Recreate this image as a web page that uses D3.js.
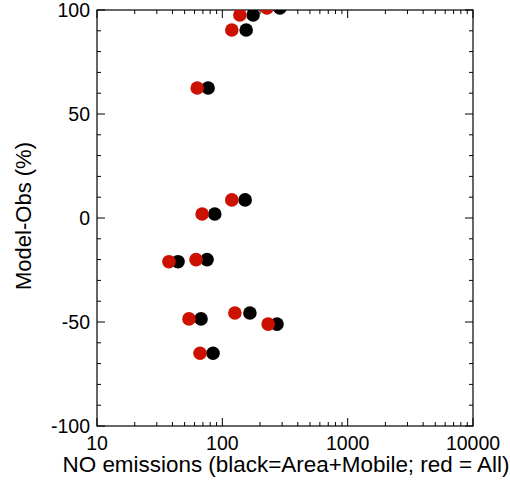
<!DOCTYPE html>
<html><head><meta charset="utf-8">
<script src="https://cdn.jsdelivr.net/npm/d3@7"></script>
<style>body{margin:0;background:#fff}svg text{font-family:"Liberation Sans",Arial,sans-serif}</style>
</head><body><svg id="c" width="510" height="483"></svg>
<script>
const blackX = [288, 176, 155, 77, 152, 87, 44.3, 75.5, 67.6, 166, 273, 84.3];
const redX   = [227, 138, 119, 63, 119, 69, 37.5, 61.7, 54.2, 126, 232, 66.4];
const yVals  = [101, 97.6, 90.4, 62.5, 8.7, 1.9, -21, -20, -48.5, -45.7, -51, -65];
const xTicks = [10, 100, 1000, 10000];
const yTicks = [-100, -50, 0, 50, 100];

const svg = d3.select("#c");
const L = 97, R = 473, T = 10, B = 426;
const x = d3.scaleLog().domain([10, 10000]).range([L, R]);
const y = d3.scaleLinear().domain([-100, 100]).range([B, T]);

const minorX = [];
for (let d = 10; d < 10000; d *= 10) for (let k = 2; k <= 9; k++) minorX.push(d * k);
const minorY = d3.range(-90, 100, 10).filter(v => v % 50 !== 0);

const g = svg.append("g");
g.append("rect").attr("x", L).attr("y", T).attr("width", R - L).attr("height", B - T)
  .attr("fill", "none").attr("stroke", "#000").attr("stroke-width", 1.2);

function xt(vals, len) {
  vals.forEach(v => {
    g.append("line").attr("x1", x(v)).attr("x2", x(v)).attr("y1", B).attr("y2", B - len).attr("stroke", "#000");
    g.append("line").attr("x1", x(v)).attr("x2", x(v)).attr("y1", T).attr("y2", T + len).attr("stroke", "#000");
  });
}
xt(xTicks, 8); xt(minorX, 4);
function yt(vals, len) {
  vals.forEach(v => {
    g.append("line").attr("x1", L).attr("x2", L + len).attr("y1", y(v)).attr("y2", y(v)).attr("stroke", "#000");
    g.append("line").attr("x1", R).attr("x2", R - len).attr("y1", y(v)).attr("y2", y(v)).attr("stroke", "#000");
  });
}
yt(yTicks, 8); yt(minorY, 4);

g.selectAll(".xl").data(xTicks).join("text").attr("x", d => x(d)).attr("y", 450)
  .attr("text-anchor", "middle").attr("font-size", 19.5).text(d => d);
g.selectAll(".yl").data(yTicks).join("text").attr("x", 90).attr("y", d => y(d)).attr("dy", "0.36em")
  .attr("text-anchor", "end").attr("font-size", 19.5).text(d => d);

g.append("text").attr("x", 286).attr("y", 472).attr("text-anchor", "middle").attr("font-size", 22)
  .attr("textLength", 447).attr("lengthAdjust", "spacingAndGlyphs")
  .text("NO emissions (black=Area+Mobile; red = All)");
g.append("text").attr("transform", "translate(31,216) rotate(-90)").attr("text-anchor", "middle")
  .attr("font-size", 22).text("Model-Obs (%)");

svg.append("clipPath").attr("id", "clip").append("rect").attr("x", L).attr("y", T).attr("width", R - L).attr("height", B - T);
const pts = svg.append("g").attr("clip-path", "url(#clip)");
pts.selectAll(".b").data(yVals).join("circle").attr("cx", (d, i) => x(blackX[i])).attr("cy", d => y(d))
  .attr("r", 6.8).attr("fill", "#000");
pts.selectAll(".r").data(yVals).join("circle").attr("cx", (d, i) => x(redX[i])).attr("cy", d => y(d))
  .attr("r", 6.8).attr("fill", "#cc1100");
</script></body></html>
